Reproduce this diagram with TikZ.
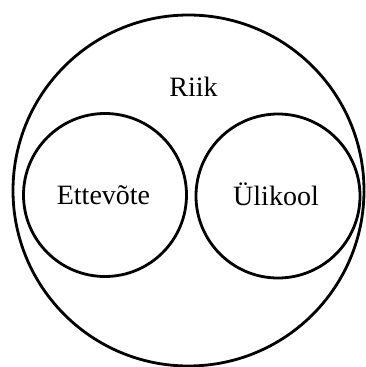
\documentclass[tikz,border=0pt]{standalone}
\usepackage{fontspec}
\setmainfont{Liberation Serif}
\begin{document}
\begin{tikzpicture}[x=1pt,y=-1pt,
  ring/.style={draw=black,line width=2.8pt,circle,inner sep=0pt},
  lbl/.style={font=\fontsize{28}{30}\selectfont,inner sep=0pt,anchor=base}]
\useasboundingbox (0,0) rectangle (366,367);
\node[ring,minimum size=351pt] (riik) at (188.5,190.5) {};
\node[ring,minimum size=163pt] (ette) at (105,195) {};
\node[ring,minimum size=164pt] (uli) at (278,196) {};
\node[lbl] (triik) at (193.5,96.5) {Riik};
\node[lbl] (tette) at (103.5,204) {Ettevõte};
\node[lbl] (tuli) at (276,205) {Ülikool};
\end{tikzpicture}
\end{document}
